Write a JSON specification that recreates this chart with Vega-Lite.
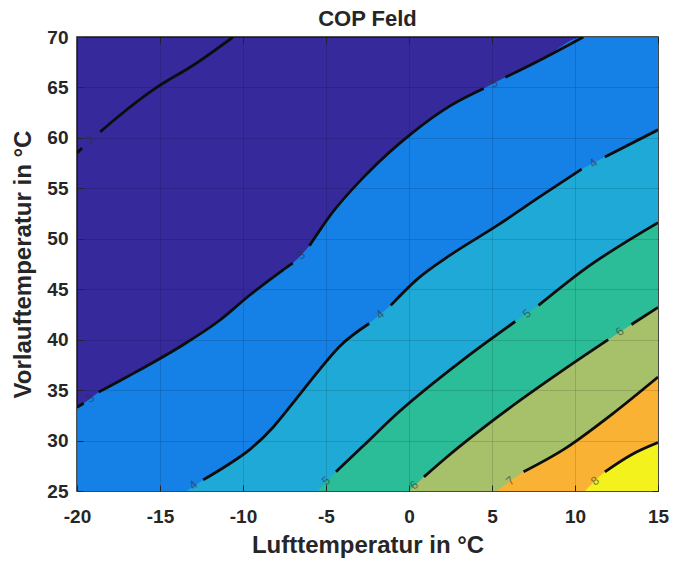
{
  "$schema": "https://vega.github.io/schema/vega-lite/v6.json",
  "width": 581,
  "height": 454,
  "autosize": "none",
  "padding": {"left": 77, "top": 37, "right": 20, "bottom": 74},
  "title": {"text": "COP Feld", "fontSize": 22, "font": "Liberation Sans", "fontWeight": "bold", "color": "#262626", "baseline": "alphabetic", "offset": 9, "dy": 29, "anchor": "middle"},
  "config": {"view": {"fill": "#35299c", "stroke": "#1a1a1a", "strokeWidth": 1.5}, "font": "Liberation Sans"},
  "resolve": {"axis": {"x": "independent", "y": "independent"}},
  "datasets": {
    "contours": [
      {"lvl": 2, "seg": "a", "x": -20, "y": 58.5}, {"lvl": 2, "seg": "a", "x": -19.7, "y": 59.0},
      {"lvl": 2, "seg": "b", "x": -18.6, "y": 60.6}, {"lvl": 2, "seg": "b", "x": -17.6, "y": 62.0}, {"lvl": 2, "seg": "b", "x": -15.2, "y": 65.0}, {"lvl": 2, "seg": "b", "x": -13, "y": 67.2}, {"lvl": 2, "seg": "b", "x": -10.6, "y": 70},
      {"lvl": 2, "seg": "ext", "x": 15, "y": 70},
      {"lvl": 3, "seg": "a", "x": -20, "y": 33.3}, {"lvl": 3, "seg": "a", "x": -19.6, "y": 33.7},
      {"lvl": 3, "seg": "b", "x": -18.7, "y": 34.8}, {"lvl": 3, "seg": "b", "x": -17, "y": 36.3}, {"lvl": 3, "seg": "b", "x": -13.8, "y": 39.3}, {"lvl": 3, "seg": "b", "x": -11.5, "y": 41.8}, {"lvl": 3, "seg": "b", "x": -9.6, "y": 44.4}, {"lvl": 3, "seg": "b", "x": -7.6, "y": 46.9}, {"lvl": 3, "seg": "b", "x": -7.0, "y": 47.6},
      {"lvl": 3, "seg": "c", "x": -6.0, "y": 49.3}, {"lvl": 3, "seg": "c", "x": -4.8, "y": 52.2}, {"lvl": 3, "seg": "c", "x": -2.5, "y": 56.5}, {"lvl": 3, "seg": "c", "x": 0.2, "y": 60.5}, {"lvl": 3, "seg": "c", "x": 2.5, "y": 63.2}, {"lvl": 3, "seg": "c", "x": 4.5, "y": 64.9},
      {"lvl": 3, "seg": "d", "x": 5.8, "y": 66.0}, {"lvl": 3, "seg": "d", "x": 8, "y": 67.8}, {"lvl": 3, "seg": "d", "x": 10.5, "y": 70},
      {"lvl": 3, "seg": "ext", "x": 15, "y": 70},
      {"lvl": 4, "seg": "a", "x": -13.4, "y": 25},
      {"lvl": 4, "seg": "b", "x": -12.4, "y": 26.1}, {"lvl": 4, "seg": "b", "x": -11, "y": 27.5}, {"lvl": 4, "seg": "b", "x": -9.6, "y": 29.1}, {"lvl": 4, "seg": "b", "x": -8.2, "y": 31.3}, {"lvl": 4, "seg": "b", "x": -7.0, "y": 33.7}, {"lvl": 4, "seg": "b", "x": -5.4, "y": 37.0}, {"lvl": 4, "seg": "b", "x": -4.2, "y": 39.3}, {"lvl": 4, "seg": "b", "x": -2.4, "y": 41.6},
      {"lvl": 4, "seg": "c", "x": -1.1, "y": 43.4}, {"lvl": 4, "seg": "c", "x": 0.5, "y": 46.0}, {"lvl": 4, "seg": "c", "x": 2.5, "y": 48.4}, {"lvl": 4, "seg": "c", "x": 5.3, "y": 51.3}, {"lvl": 4, "seg": "c", "x": 8, "y": 54.3}, {"lvl": 4, "seg": "c", "x": 10.4, "y": 56.9},
      {"lvl": 4, "seg": "d", "x": 11.8, "y": 58.1}, {"lvl": 4, "seg": "d", "x": 15, "y": 60.8},
      {"lvl": 5, "seg": "a", "x": -5.5, "y": 25},
      {"lvl": 5, "seg": "b", "x": -4.4, "y": 26.9}, {"lvl": 5, "seg": "b", "x": -2.8, "y": 29.4}, {"lvl": 5, "seg": "b", "x": -0.7, "y": 32.7}, {"lvl": 5, "seg": "b", "x": 3.25, "y": 38.0}, {"lvl": 5, "seg": "b", "x": 6.4, "y": 41.8},
      {"lvl": 5, "seg": "c", "x": 7.8, "y": 43.4}, {"lvl": 5, "seg": "c", "x": 10.5, "y": 46.9}, {"lvl": 5, "seg": "c", "x": 15, "y": 51.6},
      {"lvl": 6, "seg": "a", "x": 0, "y": 25},
      {"lvl": 6, "seg": "b", "x": 0.9, "y": 26.4}, {"lvl": 6, "seg": "b", "x": 2.3, "y": 28.4}, {"lvl": 6, "seg": "b", "x": 5.3, "y": 32.3}, {"lvl": 6, "seg": "b", "x": 9.3, "y": 37.0}, {"lvl": 6, "seg": "b", "x": 12.0, "y": 40.0},
      {"lvl": 6, "seg": "c", "x": 13.4, "y": 41.5}, {"lvl": 6, "seg": "c", "x": 15, "y": 43.2},
      {"lvl": 7, "seg": "a", "x": 5.3, "y": 25},
      {"lvl": 7, "seg": "b", "x": 6.9, "y": 26.9}, {"lvl": 7, "seg": "b", "x": 9.3, "y": 29.1}, {"lvl": 7, "seg": "b", "x": 12.3, "y": 32.7}, {"lvl": 7, "seg": "b", "x": 15, "y": 36.3},
      {"lvl": 8, "seg": "a", "x": 10.6, "y": 25},
      {"lvl": 8, "seg": "b", "x": 11.8, "y": 26.9}, {"lvl": 8, "seg": "b", "x": 13.4, "y": 28.6}, {"lvl": 8, "seg": "b", "x": 15, "y": 29.8}
    ],
    "labels": [
      {"x": -19.2, "y": 59.8, "t": "2"},
      {"x": -19.2, "y": 34.2, "t": "3"},
      {"x": -6.5, "y": 48.4, "t": "3"},
      {"x": 5.1, "y": 65.4, "t": "3"},
      {"x": -13.0, "y": 25.6, "t": "4"},
      {"x": -1.75, "y": 42.5, "t": "4"},
      {"x": 11.1, "y": 57.5, "t": "4"},
      {"x": -5.0, "y": 26.0, "t": "5"},
      {"x": 7.1, "y": 42.6, "t": "5"},
      {"x": 0.3, "y": 25.6, "t": "6"},
      {"x": 12.7, "y": 40.8, "t": "6"},
      {"x": 6.1, "y": 26.0, "t": "7"},
      {"x": 11.2, "y": 26.0, "t": "8"}
    ]
  },
  "layer": [
    {
      "data": {"name": "contours"},
      "transform": [{"filter": "datum.lvl == 3"}],
      "mark": {"type": "area", "color": "#1580e6", "clip": true, "interpolate": "monotone"},
      "encoding": {
        "x": {"field": "x", "type": "quantitative", "scale": {"domain": [-20, 15], "nice": false, "zero": false},
          "axis": {"orient": "bottom", "title": "Lufttemperatur in °C", "values": [-20, -15, -10, -5, 0, 5, 10, 15], "labelExpr": "'' + datum.value", "grid": true, "gridColor": "#000000", "gridOpacity": 0.13, "domain": false, "tickSize": -6, "tickColor": "#262626", "labelFontSize": 19, "labelFontWeight": "bold", "labelColor": "#262626", "labelPadding": 22, "labelFlush": false, "titleFontSize": 24, "titleFontWeight": "bold", "titleColor": "#262626", "titlePadding": 7, "zindex": 1}},
        "y": {"field": "y", "type": "quantitative", "stack": null, "scale": {"domain": [25, 70], "nice": false, "zero": false},
          "axis": {"orient": "left", "title": "Vorlauftemperatur in °C", "values": [25, 30, 35, 40, 45, 50, 55, 60, 65, 70], "grid": true, "gridColor": "#000000", "gridOpacity": 0.13, "domain": false, "tickSize": -6, "tickColor": "#262626", "labelFontSize": 19, "labelFontWeight": "bold", "labelColor": "#262626", "labelPadding": 15, "labelFlush": false, "titleFontSize": 24, "titleFontWeight": "bold", "titleColor": "#262626", "titlePadding": 11, "zindex": 1}},
        "y2": {"datum": 25}
      }
    },
    {
      "data": {"name": "contours"},
      "transform": [{"filter": "datum.lvl == 4"}],
      "mark": {"type": "area", "color": "#1fa9d6", "clip": true, "interpolate": "monotone"},
      "encoding": {"x": {"field": "x", "type": "quantitative", "axis": null}, "y": {"field": "y", "type": "quantitative", "stack": null, "axis": null}, "y2": {"datum": 25}}
    },
    {
      "data": {"name": "contours"},
      "transform": [{"filter": "datum.lvl == 5"}],
      "mark": {"type": "area", "color": "#2bbd98", "clip": true, "interpolate": "monotone"},
      "encoding": {"x": {"field": "x", "type": "quantitative", "axis": null}, "y": {"field": "y", "type": "quantitative", "stack": null, "axis": null}, "y2": {"datum": 25}}
    },
    {
      "data": {"name": "contours"},
      "transform": [{"filter": "datum.lvl == 6"}],
      "mark": {"type": "area", "color": "#a7c06a", "clip": true, "interpolate": "monotone"},
      "encoding": {"x": {"field": "x", "type": "quantitative", "axis": null}, "y": {"field": "y", "type": "quantitative", "stack": null, "axis": null}, "y2": {"datum": 25}}
    },
    {
      "data": {"name": "contours"},
      "transform": [{"filter": "datum.lvl == 7"}],
      "mark": {"type": "area", "color": "#f9b234", "clip": true, "interpolate": "monotone"},
      "encoding": {"x": {"field": "x", "type": "quantitative", "axis": null}, "y": {"field": "y", "type": "quantitative", "stack": null, "axis": null}, "y2": {"datum": 25}}
    },
    {
      "data": {"name": "contours"},
      "transform": [{"filter": "datum.lvl == 8"}],
      "mark": {"type": "area", "color": "#f4f21c", "clip": true, "interpolate": "monotone"},
      "encoding": {"x": {"field": "x", "type": "quantitative", "axis": null}, "y": {"field": "y", "type": "quantitative", "stack": null, "axis": null}, "y2": {"datum": 25}}
    },
    {
      "data": {"name": "contours"},
      "transform": [{"filter": "datum.seg != 'ext'"}],
      "mark": {"type": "line", "color": "#0d0d0d", "strokeWidth": 2.8, "clip": true, "interpolate": "monotone"},
      "encoding": {
        "x": {"field": "x", "type": "quantitative", "axis": null},
        "y": {"field": "y", "type": "quantitative", "axis": {"orient": "right", "title": null, "labels": false, "grid": false, "domain": false, "tickSize": -6, "tickColor": "#262626", "values": [25, 30, 35, 40, 45, 50, 55, 60, 65, 70]}},
        "detail": [{"field": "lvl", "type": "nominal"}, {"field": "seg", "type": "nominal"}]
      }
    },
    {
      "data": {"name": "labels"},
      "mark": {"type": "text", "fontSize": 12, "angle": 320, "color": "#333333", "opacity": 0.6},
      "encoding": {
        "x": {"field": "x", "type": "quantitative", "axis": {"orient": "top", "title": null, "labels": false, "grid": false, "domain": false, "tickSize": -6, "tickColor": "#262626", "values": [-20, -15, -10, -5, 0, 5, 10, 15]}},
        "y": {"field": "y", "type": "quantitative", "axis": null},
        "text": {"field": "t"}
      }
    }
  ]
}
